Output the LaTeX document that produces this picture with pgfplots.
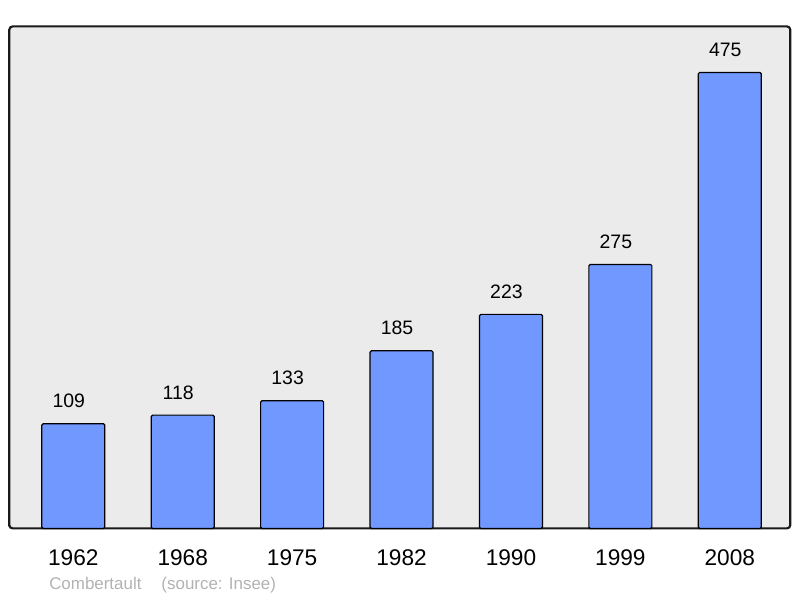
\documentclass[border=0pt]{standalone}
\usepackage{fontspec}
\setmainfont{Liberation Sans}
\usepackage{pgfplots}
\pgfplotsset{compat=1.18}

\definecolor{bargblue}{RGB}{112,152,255}
\definecolor{bggray}{RGB}{235,235,235}
\definecolor{framec}{RGB}{25,25,25}
\definecolor{srcgray}{RGB}{178,178,178}

\pgfplotstableread{
x year pop
0 1962 109
1 1968 118
2 1975 133
3 1982 185
4 1990 223
5 1999 275
6 2008 475
}\popdata

\begin{document}
\begin{tikzpicture}[x=0.75pt,y=0.75pt]
\useasboundingbox (0,0) rectangle (800,598);
\begin{axis}[
  at={(8.5,72.5)}, anchor=south west,
  scale only axis,
  width=585.75pt, height=376.5pt,
  xmin=-0.585, xmax=6.553,
  ymin=0, ymax=523,
  xtick=data,
  xticklabels={1962,1968,1975,1982,1990,1999,2008},
  ytick=\empty,
  major tick length=0pt,
  axis background/.style={fill=bggray, rounded corners=2.5pt},
  axis line style={line width=1.6pt, draw=framec, rounded corners=2.5pt},
  every x tick label/.append style={font=\fontsize{17}{19}\selectfont, anchor=base, yshift=-27.75pt},
  /pgf/number format/assume math mode=true,
  nodes near coords,
  every node near coord/.append style={font=\fontsize{14.6}{16}\selectfont, anchor=base, yshift=12pt, xshift=-3.4pt, black},
  clip=false,
]
\addplot[ybar, bar width=47.25pt, fill=bargblue, draw=black, line width=0.9pt, rounded corners=1pt]
  table[x=x, y=pop] {\popdata};
\end{axis}
\node[anchor=base west, text=srcgray, font=\fontsize{12.7}{14}\selectfont, inner sep=0pt]
  at (49,8) {Combertault\hspace{15pt}(source: Insee)};
\end{tikzpicture}
\end{document}
